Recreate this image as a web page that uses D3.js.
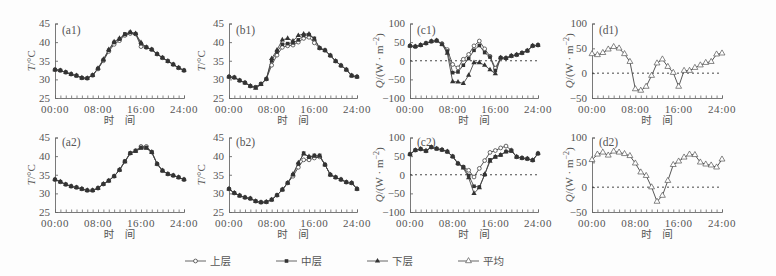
<!DOCTYPE html>
<html><head><meta charset="utf-8">
<script src="https://cdn.jsdelivr.net/npm/d3@7"></script>
<style>
html,body{margin:0;padding:0;background:#fdfdfd;}
svg{display:block;}
</style></head>
<body>
<svg id="chart" width="776" height="276"></svg>
<script>
// ---- data ----
const hours = d3.range(0, 25);
const xTickLabels = ["00:00", "08:00", "16:00", "24:00"];
const xTickValues = [0, 8, 16, 24];
const tTicks = [25, 30, 35, 40, 45];
const qTicksC = [-100, -50, 0, 50, 100];
const qTicksD = [-50, 0, 50, 100];
const seriesNames = ["上层", "中层", "下层", "平均"];
const panelLabels = ["(a1)", "(b1)", "(c1)", "(d1)", "(a2)", "(b2)", "(c2)", "(d2)"];

const a1Upper  = [32.6,32.4,31.9,31.4,31.0,30.4,30.3,31.1,32.8,35.0,37.5,39.4,40.4,41.8,42.3,42.2,38.8,38.6,38.0,36.8,35.8,34.9,34.0,33.1,32.4];
const a1Middle = [32.6,32.4,31.9,31.4,31.0,30.4,30.3,31.1,32.9,35.2,37.8,39.9,40.8,42.2,42.6,42.2,39.6,38.6,38.0,36.8,35.8,34.9,34.0,33.1,32.4];
const a1Lower  = [32.6,32.4,31.9,31.4,31.0,30.4,30.3,31.1,33.0,35.4,38.0,40.1,41.0,42.0,42.7,42.3,39.9,38.6,38.0,36.8,35.8,34.9,34.0,33.1,32.4];

const b1Upper  = [30.7,30.5,29.7,29.1,28.2,27.9,28.8,30.1,33.8,36.5,38.6,39.0,39.2,40.0,41.0,41.3,39.8,38.4,37.8,36.4,34.9,33.7,32.6,31.0,30.7];
const b1Middle = [30.7,30.5,29.7,29.1,28.2,27.9,28.8,30.1,35.0,37.4,39.4,39.6,39.8,40.6,41.8,42.0,41.0,38.4,37.8,36.4,34.9,33.7,32.6,31.0,30.7];
const b1Lower  = [30.7,30.5,29.7,29.1,28.2,27.6,28.6,30.1,35.6,37.9,40.6,41.0,40.3,41.8,42.2,42.2,40.8,38.4,37.8,36.4,34.9,33.7,32.6,31.0,30.7];

const c1Upper  = [40,38,42,47,52,54,46,30,-10,-19,4,17,40,53,32,12,-20,8,7,13,16,21,27,40,42];
const c1Middle = [40,38,42,47,52,54,44,26,-32,-30,-12,6,28,41,22,10,-26,8,7,13,16,21,27,40,42];
const c1Lower  = [40,38,42,47,52,54,44,20,-56,-57,-61,-39,-5,-5,-12,-24,-35,8,7,13,16,21,27,40,42];
const d1Mean   = [38.7,36.7,41,48,53,50,38.7,23,-32,-35,-27,-5,20,28,13,1,-27,5,5,11,16,21,23,38,40];

const a2Upper  = [33.7,33.1,32.4,31.9,31.6,31.2,30.8,30.8,31.4,32.5,33.4,34.6,36.3,38.6,40.8,41.5,42.6,42.6,41.1,37.9,36.1,35.2,34.8,34.3,33.7];
const a2Middle = [33.7,33.1,32.4,31.9,31.6,31.2,30.8,30.8,31.4,32.5,33.4,34.6,36.3,38.6,40.8,41.4,42.3,42.3,41.1,37.9,36.1,35.2,34.8,34.3,33.7];
const a2Lower  = [33.7,33.1,32.4,31.9,31.6,31.2,30.8,30.8,31.4,32.5,33.4,34.6,36.3,38.5,40.7,41.3,42.1,42.1,41.0,37.9,36.1,35.2,34.8,34.3,33.7];

const b2Upper  = [31.2,30.1,29.4,28.9,28.6,27.9,27.6,27.7,28.3,29.5,31.0,32.8,34.6,37.0,39.0,39.0,39.5,39.8,37.7,35.0,34.3,33.7,33.0,32.8,31.2];
const b2Middle = [31.2,30.1,29.4,28.9,28.6,27.9,27.6,27.7,28.3,29.5,31.0,32.8,35.0,37.9,40.8,39.7,40.2,40.2,37.7,35.0,34.3,33.7,33.0,32.8,31.2];
const b2Lower  = [31.2,30.1,29.4,28.9,28.6,27.9,27.6,27.7,28.3,29.5,31.0,32.8,35.2,38.2,40.6,39.9,40.0,40.0,37.7,35.0,34.3,33.7,33.0,32.8,31.2];

const c2Upper  = [55,66,69,64,74,70,67,62,49,30,21,12,-6,17,38,60,65,72,77,66,48,45,43,39,57];
const c2Middle = [55,66,69,64,74,70,67,62,49,30,21,-2,-31,-33,0,40,48,53,62,64,48,45,43,39,57];
const c2Lower  = [55,66,69,64,74,70,67,62,49,30,18,-8,-50,-35,1,36,48,53,62,64,48,45,43,39,57];
const d2Mean   = [55,66,70,64,72,70,67,63,48,30,23,0,-29,-17,13,45,52,60,66,65,50,46,44,40,56];

// ---- layout ----
const svg = d3.select("#chart");
const colX = [[55,184],[229,357],[410,538],[592,722]];
const rowY = [[23.5,98],[137.5,212]];
const ylabelOffset = [20, 24, 27, 19];
const lineColor = "#444";
const textColor = "#555";
const axisColor = "#6a6a6a";
const serif = "'Liberation Serif','Times New Roman',serif";
const cjk = "'Noto Sans CJK SC',sans-serif";

const markerTypes = ["circle","square","triangle","opentri"];

function drawMarker(g, type, x, y) {
  if (type === "circle") {
    g.append("circle").attr("cx", x).attr("cy", y).attr("r", 1.9)
      .attr("fill", "#fff").attr("stroke", "#444").attr("stroke-width", 0.8);
  } else if (type === "square") {
    g.append("rect").attr("x", x-1.8).attr("y", y-1.8).attr("width", 3.6).attr("height", 3.6)
      .attr("fill", "#333");
  } else if (type === "triangle") {
    g.append("path").attr("d", d3.symbol(d3.symbolTriangle, 12)()).attr("transform", `translate(${x},${y})`)
      .attr("fill", "#333");
  } else {
    g.append("path").attr("d", d3.symbol(d3.symbolTriangle, 15)()).attr("transform", `translate(${x},${y})`)
      .attr("fill", "#fff").attr("stroke", "#555").attr("stroke-width", 0.7);
  }
}

const panels = [
  {col:0,row:0,kind:"T",series:[[a1Upper,0],[a1Lower,2],[a1Middle,1]]},
  {col:1,row:0,kind:"T",series:[[b1Upper,0],[b1Lower,2],[b1Middle,1]]},
  {col:2,row:0,kind:"C",series:[[c1Upper,0],[c1Lower,2],[c1Middle,1]]},
  {col:3,row:0,kind:"D",series:[[d1Mean,3]]},
  {col:0,row:1,kind:"T",series:[[a2Upper,0],[a2Lower,2],[a2Middle,1]]},
  {col:1,row:1,kind:"T",series:[[b2Upper,0],[b2Lower,2],[b2Middle,1]]},
  {col:2,row:1,kind:"C",series:[[c2Upper,0],[c2Lower,2],[c2Middle,1]]},
  {col:3,row:1,kind:"D",series:[[d2Mean,3]]},
];

panels.forEach((p, i) => {
  const [x0, x1] = colX[p.col];
  const [yTop, yBot] = rowY[p.row];
  const x = d3.scaleLinear().domain([0, 24]).range([x0, x1]);
  const domain = p.kind === "T" ? [25, 45] : p.kind === "C" ? [-100, 100] : [-50, 100];
  const ticks = p.kind === "T" ? tTicks : p.kind === "C" ? qTicksC : qTicksD;
  const y = d3.scaleLinear().domain(domain).range([yBot, yTop]);
  const g = svg.append("g");

  // y axis
  const yAxis = d3.axisLeft(y).tickValues(ticks).tickSize(-3).tickPadding(5)
    .tickFormat(d => d < 0 ? "−" + Math.abs(d) : String(d));
  const ya = g.append("g").attr("transform", `translate(${x0},0)`).call(yAxis);
  ya.select(".domain").attr("stroke", axisColor).attr("stroke-width", 0.9);
  ya.selectAll(".tick line").attr("stroke", axisColor).attr("stroke-width", 0.9);
  ya.selectAll(".tick text").attr("fill", textColor).attr("dy", "0.3em")
    .style("font-family", serif).style("font-size", "11px");

  // x axis minor ticks (hourly, inward) and labels
  const xAxis = d3.axisBottom(x).tickValues(hours).tickSize(-2.5).tickFormat("");
  const xa = g.append("g").attr("transform", `translate(0,${yBot})`).call(xAxis);
  xa.select(".domain").attr("stroke", axisColor).attr("stroke-width", 0.9);
  xa.selectAll(".tick line").attr("stroke", axisColor).attr("stroke-width", 0.8);
  xTickValues.forEach((v, k) => {
    g.append("text").attr("x", x(v)).attr("y", yBot + 14.5).attr("text-anchor", "middle")
      .attr("fill", textColor).style("font-family", serif).style("font-size", "11px")
      .style("letter-spacing", "0.6px")
      .text(xTickLabels[k]);
  });
  g.append("text").attr("x", (x0 + x1) / 2).attr("y", yBot + 25.5).attr("text-anchor", "middle")
    .attr("fill", textColor).style("font-family", cjk).style("font-size", "10.5px")
    .text("时\u2003间");

  // y label
  const yl = g.append("text")
    .attr("transform", `translate(${x0 - ylabelOffset[p.col]},${(yTop + yBot) / 2}) rotate(-90)`)
    .attr("text-anchor", "middle").attr("fill", textColor)
    .style("font-family", serif).style("font-size", "11px");
  if (p.kind === "T") {
    yl.append("tspan").style("font-style", "italic").text("T");
    yl.append("tspan").text("/°C");
  } else {
    yl.append("tspan").style("font-style", "italic").text("Q");
    yl.append("tspan").text("/(W · m");
    yl.append("tspan").attr("dy", -4).style("font-size", "8px").text("−2");
    yl.append("tspan").attr("dy", 4).text(")");
  }

  // zero line
  if (p.kind !== "T") {
    g.append("line").attr("x1", x0).attr("x2", x1).attr("y1", y(0)).attr("y2", y(0))
      .attr("stroke", "#333").attr("stroke-width", 0.9).attr("stroke-dasharray", "2,3");
  }

  // panel label
  g.append("text").attr("x", x0 + 7).attr("y", yTop + (p.row === 0 ? 10 : 8.5))
    .attr("fill", textColor).style("font-family", serif).style("font-size", "11.5px")
    .text(panelLabels[i]);

  // series
  const line = d3.line().x((d, k) => x(hours[k])).y(d => y(d));
  p.series.forEach(([vals, mi]) => {
    g.append("path").datum(vals).attr("d", line).attr("fill", "none")
      .attr("stroke", lineColor).attr("stroke-width", 0.9);
  });
  p.series.forEach(([vals, mi]) => {
    const mg = g.append("g");
    vals.forEach((v, k) => drawMarker(mg, markerTypes[mi], x(hours[k]), y(v)));
  });
});

// legend
const legendX = [185, 276, 367, 458];
seriesNames.forEach((name, k) => {
  const lx = legendX[k], ly = 261;
  const g = svg.append("g");
  g.append("line").attr("x1", lx).attr("x2", lx + 21).attr("y1", ly).attr("y2", ly)
    .attr("stroke", "#555").attr("stroke-width", 0.9);
  drawMarker(g, markerTypes[k], lx + 10.5, ly);
  g.append("text").attr("x", lx + 25).attr("y", ly + 4).attr("fill", textColor)
    .style("font-family", cjk).style("font-size", "10.5px").text(name);
});
</script>
</body></html>
